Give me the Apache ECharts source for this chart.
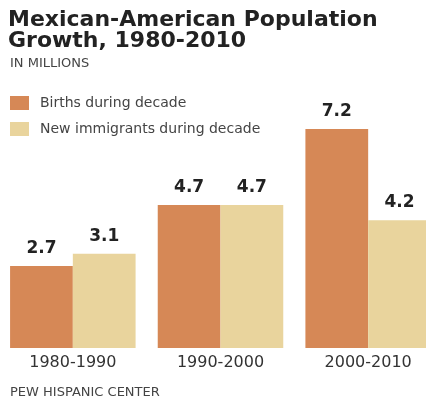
<!DOCTYPE html>
<html>
<head>
<meta charset="utf-8">
<script src="https://cdn.jsdelivr.net/npm/echarts@6/dist/echarts.min.js"></script>
<style>
  html, body { margin: 0; padding: 0; background: #fff; }
  #main { width: 426px; height: 398px; }
</style>
</head>
<body>
<div id="main"></div>
<script>
const decades = ['1980-1990', '1990-2000', '2000-2010']
const births = [2.7, 4.7, 7.2]
const immigrants = [3.1, 4.7, 4.2]

const font = '"DejaVu Sans", Verdana, sans-serif'
const myChart = echarts.init(document.getElementById('main'))

const barLabel = {
  show: true,
  position: 'top',
  distance: 9,
  color: '#222',
  fontFamily: font,
  fontWeight: 'bold',
  fontSize: 17
}

myChart.setOption({
  backgroundColor: '#fff',
  animation: false,
  title: [
    {
      text: 'Mexican-American Population\nGrowth, 1980-2010',
      left: 8,
      top: 10,
      padding: 0,
      textStyle: {
        color: '#222',
        fontFamily: font,
        fontWeight: 'bold',
        fontSize: 22,
        lineHeight: 21
      }
    },
    {
      text: 'IN MILLIONS',
      left: 10,
      top: 57,
      padding: 0,
      textStyle: { color: '#444', fontFamily: font, fontWeight: 'normal', fontSize: 13 }
    },
    {
      text: 'PEW HISPANIC CENTER',
      left: 10,
      top: 386,
      padding: 0,
      textStyle: { color: '#444', fontFamily: font, fontWeight: 'normal', fontSize: 13 }
    }
  ],
  legend: {
    orient: 'vertical',
    left: 10,
    top: 96,
    padding: 0,
    itemWidth: 19,
    itemHeight: 14,
    itemGap: 12,
    icon: 'rect',
    textStyle: {
      color: '#444',
      fontFamily: font,
      fontSize: 14,
      padding: [0, 0, 0, 6]
    },
    data: ['Births during decade', 'New immigrants during decade']
  },
  grid: {
    left: -1,
    right: -16,
    top: 129,
    bottom: 50,
    outerBoundsMode: 'none'
  },
  xAxis: {
    type: 'category',
    data: decades,
    axisLine: { show: false },
    axisTick: { show: false },
    axisLabel: {
      margin: 7,
      color: '#333',
      fontFamily: font,
      fontSize: 16
    }
  },
  yAxis: {
    type: 'value',
    min: 0,
    max: 7.2,
    show: false,
    splitLine: { show: false }
  },
  series: [
    {
      name: 'Births during decade',
      type: 'bar',
      data: births,
      barGap: '0%',
      barCategoryGap: '15%',
      itemStyle: { color: '#D68856' },
      label: barLabel
    },
    {
      name: 'New immigrants during decade',
      type: 'bar',
      data: immigrants,
      itemStyle: { color: '#E9D49D' },
      label: barLabel
    }
  ]
})
</script>
</body>
</html>
